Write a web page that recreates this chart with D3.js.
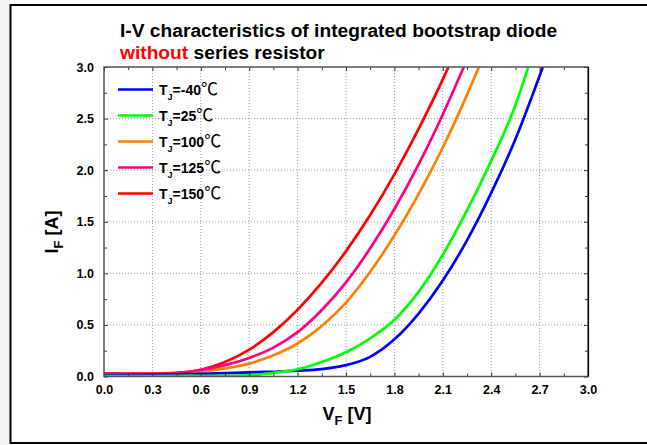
<!DOCTYPE html>
<html><head><meta charset="utf-8">
<script src="https://cdn.jsdelivr.net/npm/d3@7"></script>
<style>
body{margin:0;background:#fff}
svg{display:block}
text{font-family:"Liberation Sans",Arial,sans-serif;font-weight:bold}
</style>
</head><body>
<svg id="c" width="647" height="445"></svg>
<script>
// ---- data ----
const seriesLabels = ["-40", "25", "100", "125", "150"];
const seriesColors = ["#0000ff", "#00ff00", "#ff8000", "#ff0080", "#ff0000"];

const vM40 = [0, 0.3, 0.6, 0.9, 1.2, 1.35, 1.5, 1.65, 1.8, 1.95, 2.1, 2.25, 2.4, 2.55, 2.72];
const iM40 = [0.01, 0.015, 0.025, 0.04, 0.056, 0.072, 0.11, 0.19, 0.36, 0.61, 0.93, 1.32, 1.78, 2.3, 3.0];

const v25 = [0, 0.3, 0.6, 0.9, 1.05, 1.2, 1.35, 1.5, 1.65, 1.8, 1.95, 2.1, 2.25, 2.4, 2.55, 2.63];
const i25 = [0.005, 0.005, 0.006, 0.012, 0.035, 0.07, 0.14, 0.235, 0.37, 0.55, 0.82, 1.18, 1.61, 2.09, 2.63, 3.0];

const v100 = [0, 0.3, 0.6, 0.75, 0.9, 1.05, 1.2, 1.35, 1.5, 1.65, 1.8, 1.95, 2.1, 2.25, 2.324];
const i100 = [0.025, 0.02, 0.047, 0.078, 0.125, 0.205, 0.32, 0.49, 0.716, 1.015, 1.366, 1.768, 2.22, 2.73, 3.0];

const v125 = [0, 0.3, 0.6, 0.75, 0.9, 1.05, 1.2, 1.35, 1.5, 1.65, 1.8, 1.95, 2.1, 2.23];
const i125 = [0.03, 0.025, 0.063, 0.11, 0.18, 0.28, 0.43, 0.645, 0.913, 1.243, 1.624, 2.056, 2.54, 3.0];

const v150 = [0, 0.3, 0.45, 0.6, 0.75, 0.9, 1.05, 1.2, 1.35, 1.5, 1.65, 1.8, 1.95, 2.1, 2.135];
const i150 = [0.03, 0.028, 0.035, 0.065, 0.14, 0.26, 0.43, 0.647, 0.909, 1.215, 1.565, 1.96, 2.40, 2.88, 3.0];

const xTicks = [0, 0.3, 0.6, 0.9, 1.2, 1.5, 1.8, 2.1, 2.4, 2.7, 3.0];
const yTicks = [0, 0.5, 1.0, 1.5, 2.0, 2.5, 3.0];
const xMinor = [0.15, 0.45, 0.75, 1.05, 1.35, 1.65, 1.95, 2.25, 2.55, 2.85];
const yMinor = [0.25, 0.75, 1.25, 1.75, 2.25, 2.75];

const seriesV = [vM40, v25, v100, v125, v150];
const seriesI = [iM40, i25, i100, i125, i150];
const drawOrder = [4, 2, 3, 0, 1];

// ---- drawing ----
const svg = d3.select("#c");
const L = 104, R = 588, T = 67, B = 376.5;
const x = d3.scaleLinear().domain([0, 3]).range([L, R]);
const y = d3.scaleLinear().domain([0, 3]).range([B, T]);

// outer page frame
svg.append("rect").attr("x", 0).attr("y", 0).attr("width", 10).attr("height", 445).attr("fill", "#f3f3f3");
svg.append("rect").attr("x", 10.5).attr("y", 5).attr("width", 660).attr("height", 438)
  .attr("fill", "#fff").attr("stroke", "#000").attr("stroke-width", 2);

// grid
const grid = svg.append("g");
grid.selectAll(".gx").data(xTicks.slice(1, -1)).join("line")
  .attr("x1", d => x(d)).attr("x2", d => x(d)).attr("y1", T).attr("y2", B)
  .attr("stroke", "#999").attr("stroke-width", 1).attr("stroke-dasharray", "1,2");
grid.selectAll(".gy").data(yTicks.slice(1, -1)).join("line")
  .attr("x1", L).attr("x2", R).attr("y1", d => y(d)).attr("y2", d => y(d))
  .attr("stroke", "#999").attr("stroke-width", 1).attr("stroke-dasharray", "1,2");

// curves
svg.append("clipPath").attr("id", "clip").append("rect")
  .attr("x", L).attr("y", T).attr("width", R - L).attr("height", B - T);
const line = d3.line().x(d => x(d[0])).y(d => y(d[1])).curve(d3.curveMonotoneX);
const curves = svg.append("g").attr("clip-path", "url(#clip)");
drawOrder.forEach(k => {
  const pts = seriesV[k].map((v, j) => [v, seriesI[k][j]]);
  curves.append("path").datum(pts).attr("d", line)
    .attr("fill", "none").attr("stroke", seriesColors[k]).attr("stroke-width", 2.7)
    .attr("stroke-linejoin", "round");
});

// axes (ticks inward on all 4 sides)
function styleAxis(g) {
  g.select(".domain").remove();
  g.selectAll(".tick line").attr("stroke", "#333").attr("stroke-width", 1);
  g.selectAll(".tick text").attr("font-size", "12.5px").attr("font-weight", "bold")
    .attr("font-family", "'Liberation Sans',Arial,sans-serif").attr("fill", "#000");
}
const fmt = d3.format(".1f");
svg.append("g").attr("transform", `translate(0,${B})`)
  .call(d3.axisBottom(x).tickValues(xTicks).tickFormat(fmt).tickSize(-4).tickPadding(9)).call(styleAxis);
svg.append("g").attr("transform", `translate(0,${B})`)
  .call(d3.axisBottom(x).tickValues(xMinor).tickFormat("").tickSize(-3)).call(styleAxis);
svg.append("g").attr("transform", `translate(0,${T})`)
  .call(d3.axisTop(x).tickValues(xTicks).tickFormat("").tickSize(-4)).call(styleAxis);
svg.append("g").attr("transform", `translate(0,${T})`)
  .call(d3.axisTop(x).tickValues(xMinor).tickFormat("").tickSize(-3)).call(styleAxis);
svg.append("g").attr("transform", `translate(${L},0)`)
  .call(d3.axisLeft(y).tickValues(yTicks).tickFormat(fmt).tickSize(-4).tickPadding(10)).call(styleAxis);
svg.append("g").attr("transform", `translate(${L},0)`)
  .call(d3.axisLeft(y).tickValues(yMinor).tickFormat("").tickSize(-3)).call(styleAxis);
svg.append("g").attr("transform", `translate(${R},0)`)
  .call(d3.axisRight(y).tickValues(yTicks).tickFormat("").tickSize(-4)).call(styleAxis);
svg.append("g").attr("transform", `translate(${R},0)`)
  .call(d3.axisRight(y).tickValues(yMinor).tickFormat("").tickSize(-3)).call(styleAxis);

// plot frame
svg.append("rect").attr("x", L).attr("y", T).attr("width", R - L).attr("height", B - T)
  .attr("fill", "none").attr("stroke", "#555").attr("stroke-width", 1.5);
svg.append("line").attr("x1", R + 0.5).attr("x2", R + 0.5).attr("y1", T).attr("y2", B)
  .attr("stroke", "#000").attr("stroke-width", 1.2);

// title
const t1 = svg.append("text").attr("x", 120).attr("y", 37).attr("font-size", "19.2px");
t1.text("I-V characteristics of integrated bootstrap diode");
const t2 = svg.append("text").attr("x", 120).attr("y", 59).attr("font-size", "19.2px");
t2.append("tspan").attr("fill", "#ff0000").text("without");
t2.append("tspan").attr("fill", "#000").text(" series resistor");

// axis titles
const yl = svg.append("text").attr("transform", "translate(58,232) rotate(-90)")
  .attr("text-anchor", "middle").attr("font-size", "18px");
yl.append("tspan").text("I");
yl.append("tspan").attr("font-size", "13px").attr("dy", 5).text("F");
yl.append("tspan").attr("dy", -5).text(" [A]");

const xl = svg.append("text").attr("x", 347).attr("y", 420)
  .attr("text-anchor", "middle").attr("font-size", "18px");
xl.append("tspan").text("V");
xl.append("tspan").attr("font-size", "13px").attr("dy", 5).text("F");
xl.append("tspan").attr("dy", -5).text(" [V]");

// legend
const legY0 = 89.5, legDY = 26;
seriesLabels.forEach((lab, k) => {
  const yy = legY0 + k * legDY;
  svg.append("line").attr("x1", 118).attr("x2", 153).attr("y1", yy).attr("y2", yy)
    .attr("stroke", seriesColors[k]).attr("stroke-width", 2.7);
  const tx = svg.append("text").attr("x", 159).attr("y", yy + 5).attr("font-size", "14px");
  tx.append("tspan").text("T");
  tx.append("tspan").attr("font-size", "9px").attr("dy", 5).text("J");
  tx.append("tspan").attr("dy", -5).text("=" + lab);
  tx.append("tspan").attr("font-weight", "normal")
    .attr("font-family", "'Noto Sans CJK SC',sans-serif").attr("font-size", "17px").text("℃");
});
</script>
</body></html>
